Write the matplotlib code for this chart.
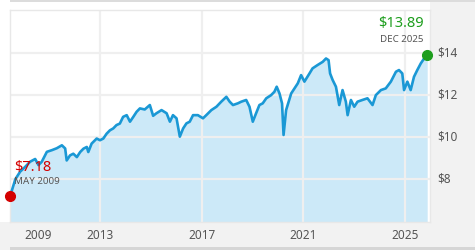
import matplotlib
matplotlib.use("Agg")
import matplotlib.pyplot as plt
from matplotlib.patches import Rectangle

# decimal year / price
years = [2009.46, 2009.54, 2009.67, 2009.86, 2010.06, 2010.25, 2010.45, 2010.58,
         2010.71, 2010.91, 2011.11, 2011.30, 2011.50, 2011.63, 2011.69, 2011.82,
         2011.95, 2012.09, 2012.22, 2012.35, 2012.48, 2012.54, 2012.67, 2012.87,
         2013.00, 2013.13, 2013.26, 2013.39, 2013.52, 2013.65, 2013.78, 2013.91,
         2014.05, 2014.18, 2014.31, 2014.44, 2014.57, 2014.76, 2014.96, 2015.09,
         2015.22, 2015.42, 2015.62, 2015.75, 2015.87, 2016.01, 2016.14, 2016.27,
         2016.40, 2016.53, 2016.66, 2016.85, 2017.05, 2017.18, 2017.38, 2017.58,
         2017.77, 2017.97, 2018.10, 2018.23, 2018.42, 2018.56, 2018.75, 2018.88,
         2019.01, 2019.14, 2019.27, 2019.40, 2019.54, 2019.73, 2019.86, 2019.95,
         2020.06, 2020.16, 2020.22, 2020.32, 2020.52, 2020.65, 2020.78, 2020.91,
         2021.04, 2021.24, 2021.36, 2021.56, 2021.76, 2021.89, 2021.99, 2022.05,
         2022.15, 2022.28, 2022.41, 2022.54, 2022.67, 2022.74, 2022.87, 2023.00,
         2023.13, 2023.32, 2023.52, 2023.72, 2023.85, 2024.05, 2024.24, 2024.44,
         2024.64, 2024.76, 2024.89, 2024.96, 2025.09, 2025.22, 2025.35, 2025.48,
         2025.62, 2025.75, 2025.87]
prices = [7.18, 7.48, 7.99, 8.35, 8.58, 8.82, 8.95, 8.66,
          8.82, 9.29, 9.37, 9.46, 9.60, 9.45, 8.88, 9.12,
          9.20, 9.04, 9.28, 9.44, 9.52, 9.28, 9.68, 9.92,
          9.84, 9.92, 10.15, 10.31, 10.40, 10.56, 10.63, 10.95,
          11.03, 10.72, 10.95, 11.19, 11.35, 11.30, 11.51, 11.00,
          11.12, 11.27, 11.12, 10.72, 11.03, 10.88, 10.01, 10.40,
          10.64, 10.72, 11.03, 11.03, 10.88, 11.03, 11.27, 11.43,
          11.67, 11.90, 11.67, 11.51, 11.59, 11.67, 11.75, 11.43,
          10.72, 11.12, 11.51, 11.59, 11.83, 11.98, 12.14, 12.38,
          12.06, 11.59, 10.09, 11.27, 12.06, 12.30, 12.54, 12.93,
          12.62, 13.01, 13.25, 13.41, 13.56, 13.72, 13.64, 13.01,
          12.70, 12.38, 11.51, 12.22, 11.67, 11.03, 11.75, 11.43,
          11.67, 11.75, 11.83, 11.51, 11.98, 12.22, 12.30, 12.62,
          13.09, 13.17, 13.01, 12.22, 12.62, 12.22, 12.85, 13.17,
          13.49, 13.72, 13.89]

ytick_vals = [8, 10, 12, 14]
ytick_labels = ["$8", "$10", "$12", "$14"]
xtick_years = [2013, 2017, 2021, 2025]
xtick_labels = ["2009", "2013", "2017", "2021", "2025"]

plt.rcParams['font.family'] = ['Noto Sans', 'DejaVu Sans']

W, H = 475, 250
fig = plt.figure(figsize=(W / 100, H / 100), dpi=100)
fig.patch.set_facecolor("white")


def px_rect(x, y, w, h, color):
    # rectangle in pixel coords, y measured from the top
    fig.add_artist(Rectangle((x / W, 1 - (y + h) / H), w / W, h / H,
                             transform=fig.transFigure, color=color, lw=0, zorder=0))


px_rect(430, 0, 45, 250, "#f2f2f2")
px_rect(0, 222, 475, 28, "#f2f2f2")
px_rect(10, 0, 465, 2, "#dcdcdc")
px_rect(10, 247, 465, 3, "#d6d6d6")

ax = fig.add_axes([10 / W, 28 / H, 420 / W, 212 / H])
ax.set_facecolor("white")
ax.set_xlim(2009.46, 2025.98)
ax.set_ylim(5.96, 16.02)

ax.fill_between(years, prices, 5.96, color="#cce9f8", lw=0, zorder=1)
for v in ytick_vals:
    ax.axhline(v, color="#efefef", lw=1.6, zorder=2)
for yr in xtick_years:
    ax.axvline(yr, color="#efefef", lw=1.6, zorder=2)
ax.plot(years, prices, color="#1a98d5", lw=1.9, zorder=3, solid_joinstyle="round")

ax.plot(years[0], prices[0], "o", color="#d40000", ms=7, zorder=5, clip_on=False)
ax.plot(years[-1], prices[-1], "o", color="#1e9e1e", ms=7, zorder=5, clip_on=False)

for s in ax.spines.values():
    s.set_color("#e8e8e8")
    s.set_linewidth(1)
ax.set_xticks([])
ax.set_yticks([])

# y labels on the gray panel
for v, lab in zip(ytick_vals, ytick_labels):
    ax.text(1.017, (v - 5.96) / (16.02 - 5.96), lab, transform=ax.transAxes,
            ha="left", va="center", fontsize=8.5, color="#555555")

# x labels (first one is pushed in from the edge)
xpos = [2010.57] + xtick_years
for yr, lab in zip(xpos, xtick_labels):
    ax.text(yr, -0.063, lab, transform=ax.get_xaxis_transform(),
            ha="center", va="center", fontsize=8.5, color="#555555")

# end point annotations
fig.text(424 / W, 1 - 24 / H, "$13.89", ha="right", va="center",
         fontsize=10.5, color="#1e9e1e", fontweight="semibold")
fig.text(424 / W, 1 - 39 / H, "DEC 2025", ha="right", va="center",
         fontsize=7, color="#555555")
fig.text(14 / W, 1 - 167 / H, "$7.18", ha="left", va="center",
         fontsize=10.5, color="#d40000", fontweight="semibold")
fig.text(14 / W, 1 - 182 / H, "MAY 2009", ha="left", va="center",
         fontsize=7, color="#555555")

fig.savefig("out.png", dpi=100)
